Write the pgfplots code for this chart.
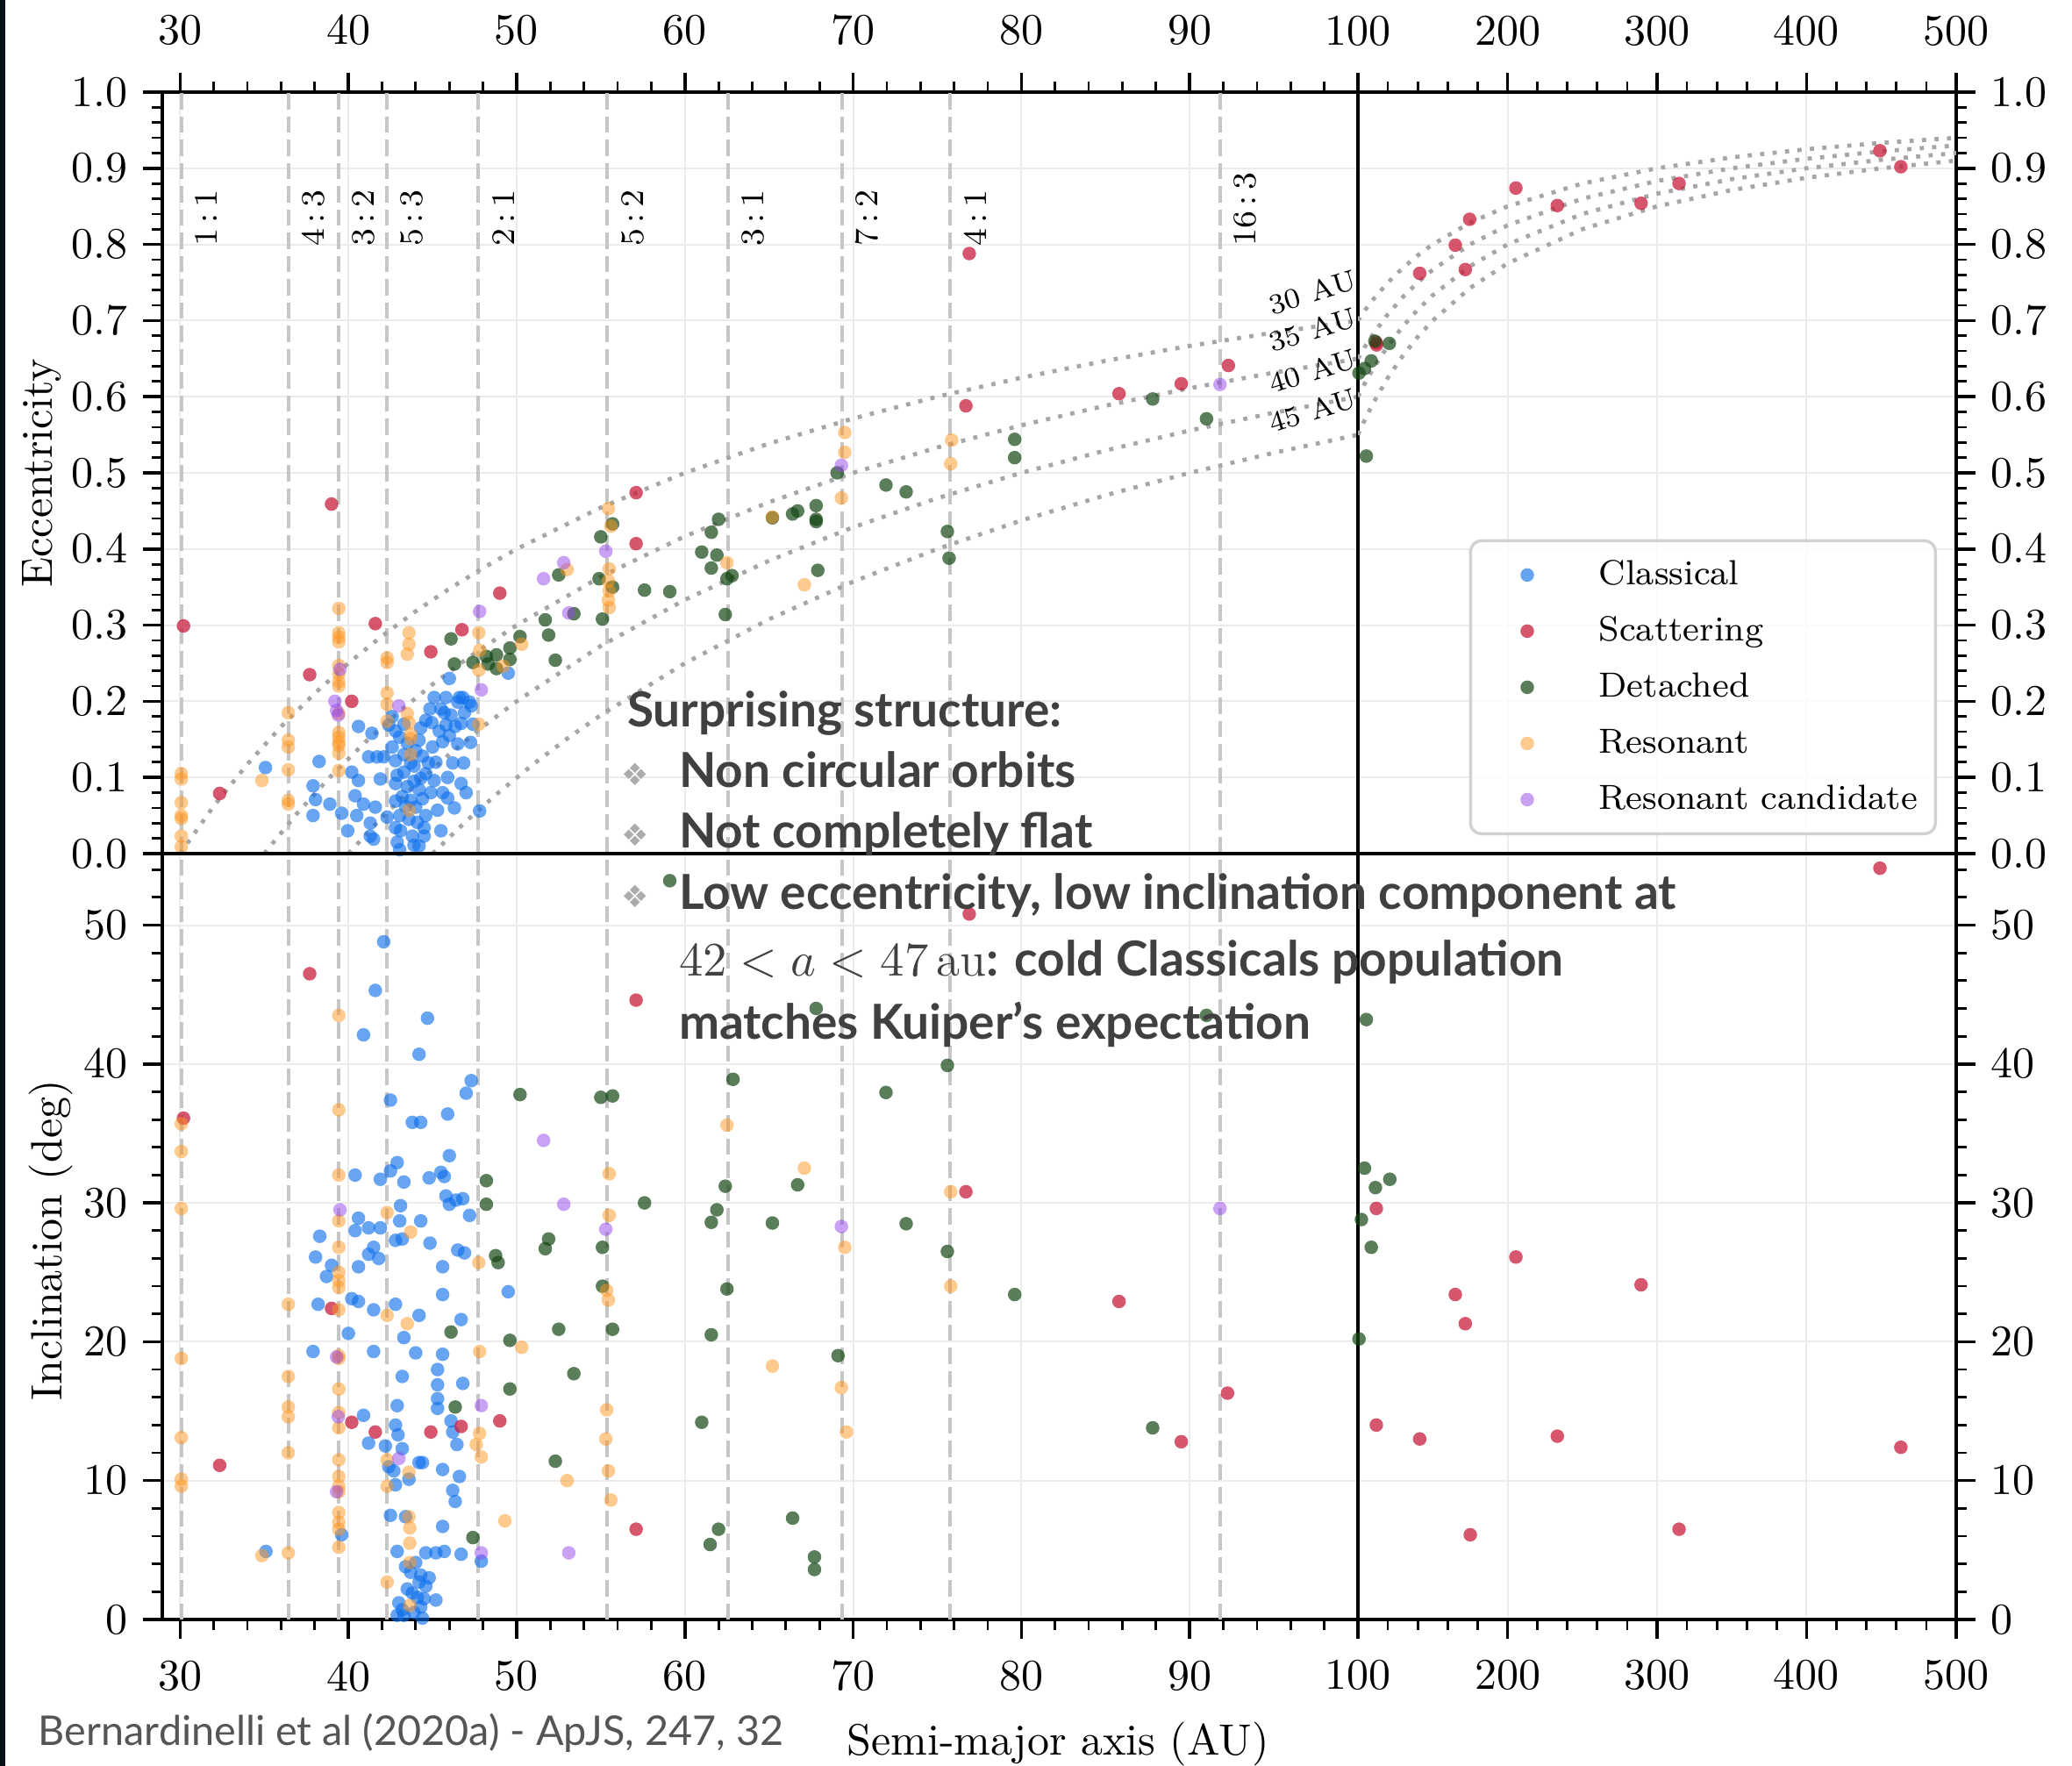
\documentclass[border=0pt]{standalone}
\usepackage{pgfplots}
\pgfplotsset{compat=1.18}
\usepackage{pgfplotstable}
\usepackage{fontspec}
\newfontfamily\annfont{Lato}
\newfontfamily\symfont{DejaVu Sans}

\definecolor{cClass}{RGB}{10,110,235}
\definecolor{cScat}{RGB}{200,30,60}
\definecolor{cDet}{RGB}{20,70,20}
\definecolor{cRes}{RGB}{255,150,30}
\definecolor{cCand}{RGB}{150,70,235}
\definecolor{anncol}{RGB}{64,64,64}
\definecolor{credcol}{RGB}{85,85,85}
\definecolor{stripcol}{RGB}{8,16,28}

\pgfdeclareplotmark{dot}{\pgfpathcircle{\pgfpointorigin}{\pgfplotmarksize}\pgfusepathqfill}

% ---------------- eccentricity data ----------------
\pgfplotstableread{
a e
35.07 0.113
38.26 0.121
37.9 0.089
38.05 0.071
38.9 0.065
37.9 0.050
39.6 0.053
39.96 0.030
40.6 0.167
40.2 0.107
40.6 0.096
40.4 0.076
40.9 0.065
40.5 0.050
41.2 0.127
41.4 0.158
41.7 0.127
41.9 0.098
41.6 0.061
41.3 0.040
41.3 0.023
41.5 0.019
42.1 0.127
42.3 0.048
42.4 0.169
42.6 0.180
42.8 0.122
42.8 0.092
42.8 0.069
42.8 0.034
43.05 0.005
42.8 0.161
43.05 0.153
43.3 0.130
43.3 0.107
42.9 0.103
43.7 0.119
43.9 0.115
43.9 0.011
44.0 0.061
43.8 0.023
44.3 0.165
44.2 0.149
44.2 0.084
44.3 0.099
44.5 0.034
44.5 0.023
44.6 0.050
44.75 0.119
44.85 0.190
44.96 0.172
45.1 0.096
45.3 0.057
45.4 0.161
45.5 0.190
45.6 0.147
45.6 0.080
45.8 0.205
45.8 0.169
45.9 0.073
46.1 0.182
46.2 0.119
46.35 0.167
46.5 0.199
46.5 0.144
46.7 0.171
46.7 0.092
46.8 0.205
46.85 0.119
47.0 0.080
47.2 0.199
47.26 0.146
47.3 0.194
46.0 0.230
49.5 0.237
47.8 0.056
43.05 0.050
43.2 0.075
43.5 0.088
43.6 0.045
43.1 0.030
43.4 0.062
44.1 0.041
44.4 0.072
43.9 0.095
44.6 0.105
44.0 0.135
42.6 0.140
43.5 0.145
44.4 0.128
45.0 0.140
45.2 0.120
45.9 0.100
46.3 0.060
45.5 0.030
44.9 0.080
43.7 0.070
42.9 0.015
44.2 0.010
43.3 0.170
44.6 0.175
45.1 0.205
46.0 0.155
46.9 0.185
47.4 0.170
46.6 0.205
45.7 0.185
}\tCE

\pgfplotstableread{
a e
30.2 0.299
32.35 0.079
37.7 0.235
39.0 0.459
41.6 0.302
40.2 0.200
44.9 0.265
46.75 0.294
49.0 0.342
57.1 0.474
57.1 0.407
76.7 0.588
76.9 0.788
85.8 0.604
89.5 0.617
92.3 0.641
112.3 0.671
112.5 0.668
141.3 0.762
165.1 0.799
171.8 0.767
174.7 0.833
205.6 0.874
233.3 0.851
289.3 0.854
314.7 0.880
449 0.923
463 0.902
}\tSE

\pgfplotstableread{
a e
46.1 0.282
46.3 0.249
47.4 0.251
48.2 0.259
48.3 0.249
48.8 0.261
48.8 0.243
49.6 0.270
49.6 0.255
50.2 0.285
51.7 0.307
51.9 0.287
52.3 0.254
52.5 0.366
53.4 0.315
55.0 0.416
54.9 0.361
55.7 0.433
55.7 0.350
55.1 0.308
57.6 0.346
59.1 0.344
61.57 0.422
62.0 0.439
61.0 0.396
61.9 0.392
61.57 0.375
62.5 0.361
62.8 0.365
62.4 0.314
65.2 0.441
66.4 0.446
66.7 0.450
67.8 0.457
67.8 0.439
67.8 0.436
67.9 0.372
69.05 0.500
71.95 0.484
73.15 0.475
75.6 0.423
75.7 0.388
79.6 0.544
79.6 0.520
87.8 0.597
91.0 0.571
111.3 0.673
121.0 0.670
108.9 0.647
104.4 0.637
100.7 0.631
105.6 0.522
}\tDE

\pgfplotstableread{
a e
30.07 0.105
30.07 0.098
30.07 0.067
30.07 0.050
30.07 0.046
30.07 0.023
30.07 0.009
34.86 0.096
36.43 0.185
36.43 0.149
36.43 0.140
36.43 0.110
36.43 0.070
36.43 0.065
39.43 0.322
39.43 0.290
39.43 0.284
39.43 0.278
39.43 0.247
39.43 0.236
39.43 0.226
39.43 0.220
39.43 0.184
39.43 0.159
39.43 0.153
39.43 0.146
39.43 0.142
39.43 0.132
39.43 0.109
42.3 0.257
42.3 0.251
42.3 0.211
42.3 0.196
42.3 0.174
43.5 0.184
43.6 0.172
43.7 0.157
43.7 0.151
43.7 0.130
43.6 0.057
43.6 0.290
43.6 0.275
43.5 0.262
47.75 0.290
47.8 0.267
47.75 0.241
47.75 0.170
49.2 0.246
50.3 0.275
53.0 0.373
55.45 0.453
55.6 0.430
55.5 0.374
55.45 0.358
55.5 0.345
55.45 0.333
55.5 0.323
62.5 0.382
65.2 0.442
69.5 0.553
69.5 0.527
69.3 0.467
67.1 0.353
75.85 0.543
75.8 0.512
}\tRE

\pgfplotstableread{
a e
47.8 0.318
47.9 0.215
51.6 0.361
52.8 0.382
53.1 0.316
55.3 0.397
43.0 0.194
39.5 0.242
39.2 0.200
39.3 0.188
39.4 0.182
69.3 0.510
91.8 0.616
}\tKE

% ---------------- inclination data ----------------
\pgfplotstableread{
a i
42.1 48.8
41.6 45.3
44.7 43.3
40.9 42.1
44.2 40.7
42.5 37.4
47.3 38.8
47.0 37.9
43.8 35.8
44.3 35.8
45.9 36.4
46.0 33.4
40.4 32.0
41.9 31.7
42.9 32.9
42.5 32.3
43.3 31.5
44.8 31.8
45.5 32.2
45.7 31.9
45.8 30.5
46.0 29.9
46.4 30.2
46.8 30.3
47.2 29.1
43.1 29.8
44.3 28.7
40.6 28.9
40.4 28.0
41.2 28.2
41.9 28.2
43.05 28.7
42.8 27.3
43.2 27.4
38.3 27.6
38.05 26.1
39.0 25.5
38.7 24.7
41.5 26.8
41.2 26.3
41.8 26.0
40.6 25.4
44.85 27.1
46.5 26.6
46.9 26.4
45.6 25.4
40.2 23.1
40.6 22.9
38.2 22.7
41.5 22.3
42.8 22.7
44.2 21.9
45.6 23.4
46.7 21.6
40.0 20.6
43.3 20.3
37.9 19.3
41.5 19.3
44.0 19.2
45.6 19.1
49.5 23.6
45.3 18.0
43.2 17.5
45.3 16.9
46.8 17.0
45.3 15.9
45.3 15.2
42.9 15.4
40.9 14.7
46.1 14.3
42.8 14.0
46.2 13.5
42.95 13.3
42.2 12.5
41.2 12.7
46.45 12.6
43.2 12.3
44.2 11.3
44.4 11.3
42.4 11.0
45.6 10.8
46.6 10.3
42.7 10.7
43.6 10.1
42.8 9.7
46.2 9.3
46.35 8.5
42.5 7.5
43.4 7.4
45.6 6.7
39.6 6.1
42.9 4.9
44.6 4.8
45.2 4.8
45.7 4.9
46.7 4.7
47.9 4.2
35.1 4.9
43.4 3.8
43.7 3.4
44.3 3.2
44.2 2.7
44.6 2.4
45.2 1.4
43.8 1.9
44.1 1.6
44.5 1.5
43.0 1.2
43.2 0.7
42.9 0.3
43.3 0.3
43.9 0.5
44.4 0.1
43.5 2.2
44.0 4.1
44.8 3.0
44.3 0.9
}\tCI

\pgfplotstableread{
a i
37.7 46.5
30.2 36.1
39.0 22.4
40.2 14.2
41.6 13.5
44.9 13.5
46.7 13.9
49.0 14.3
32.35 11.1
57.1 44.6
57.1 6.5
76.9 50.8
76.7 30.8
85.8 22.9
92.25 16.3
89.5 12.8
449 54.1
112.3 29.6
205.6 26.1
289.3 24.1
165.1 23.4
171.8 21.3
112.3 14.0
141.3 13.0
233.3 13.2
463 12.4
175.1 6.1
314.7 6.5
}\tSI

\pgfplotstableread{
a i
48.2 31.6
48.2 29.9
48.75 26.2
48.9 25.7
50.2 37.8
55.0 37.6
55.7 37.7
57.6 30.0
51.9 27.4
51.7 26.7
55.1 26.8
55.1 24.0
55.7 20.9
52.5 20.9
46.1 20.7
49.6 20.1
53.4 17.7
49.6 16.6
46.35 15.3
52.3 11.4
47.4 5.9
59.1 53.2
67.8 44.0
91.0 43.5
75.6 39.9
62.86 38.9
71.95 37.95
62.4 31.2
66.7 31.3
61.9 29.5
61.57 28.6
65.2 28.55
73.15 28.5
75.6 26.5
62.5 23.8
79.6 23.4
61.57 20.5
69.1 19.0
61.0 14.2
87.8 13.8
66.4 7.3
62.0 6.5
61.5 5.4
67.7 4.5
67.7 3.6
105.6 43.2
104.4 32.5
111.7 31.1
121.3 31.7
102.3 28.8
108.9 26.8
100.7 20.2
}\tDI

\pgfplotstableread{
a i
30.07 35.7
30.07 33.7
30.07 29.6
30.07 18.8
30.07 13.1
30.07 10.1
30.07 9.6
36.43 22.7
36.43 17.5
36.43 15.3
36.43 14.6
36.43 12.0
36.43 4.8
34.86 4.6
39.43 43.5
39.43 36.7
39.43 32.0
39.43 28.7
39.43 26.8
39.43 25.0
39.43 24.4
39.43 23.9
39.43 22.3
39.43 19.0
39.43 18.8
39.43 16.6
39.43 14.9
39.43 13.8
39.43 11.5
39.43 10.3
39.43 9.6
39.43 9.2
39.43 7.7
39.43 7.0
39.43 6.5
39.43 5.2
42.3 29.3
42.3 21.9
42.3 11.5
42.3 9.6
42.3 2.7
43.7 27.9
43.5 21.3
43.6 10.6
43.6 7.4
43.65 6.6
43.65 5.5
43.65 4.1
43.65 1.0
47.75 25.7
47.8 19.3
47.8 13.4
47.6 12.6
47.9 11.7
50.3 19.6
49.3 7.1
53.0 10.0
55.5 32.1
55.5 29.1
55.35 23.7
55.45 23.0
55.35 15.1
55.3 13.0
55.45 10.7
55.6 8.6
62.5 35.6
67.1 32.5
75.8 30.8
69.5 26.8
75.8 24.0
65.2 18.25
69.3 16.7
69.6 13.5
}\tRI

\pgfplotstableread{
a i
39.5 29.5
39.3 18.9
39.4 14.6
39.3 9.2
43.0 11.6
51.6 34.5
52.8 29.9
55.3 28.1
47.9 15.4
47.9 4.8
53.1 4.8
69.3 28.3
91.8 29.6
}\tKI

% ---------------- constant perihelion curves e = 1 - q/a ----------------
\pgfplotstableread{
a e
30 0
32 0.0625
34 0.1176
36 0.1667
38 0.2105
40 0.25
42 0.2857
44 0.3182
46 0.3478
48 0.375
50 0.4
55 0.4545
60 0.5
65 0.5385
70 0.5714
75 0.6
80 0.625
85 0.6471
90 0.6667
95 0.6842
100 0.7
105 0.7143
110 0.7273
120 0.75
130 0.7692
140 0.7857
150 0.8
175 0.8286
200 0.85
250 0.88
300 0.9
350 0.9143
400 0.925
450 0.9333
500 0.94
}\tQa
\pgfplotstableread{
a e
35 0
37 0.0541
39 0.1026
41 0.1463
43 0.1860
45 0.2222
47 0.2553
50 0.3
55 0.3636
60 0.4167
65 0.4615
70 0.5
75 0.5333
80 0.5625
85 0.5882
90 0.6111
95 0.6316
100 0.65
105 0.6667
110 0.6818
120 0.7083
130 0.7308
140 0.75
150 0.7667
175 0.8
200 0.825
250 0.86
300 0.8833
350 0.9
400 0.9125
450 0.9222
500 0.93
}\tQb
\pgfplotstableread{
a e
40 0
42 0.0476
44 0.0909
46 0.1304
48 0.1667
50 0.2
55 0.2727
60 0.3333
65 0.3846
70 0.4286
75 0.4667
80 0.5
85 0.5294
90 0.5556
95 0.5789
100 0.6
105 0.6190
110 0.6364
120 0.6667
130 0.6923
140 0.7143
150 0.7333
175 0.7714
200 0.8
250 0.84
300 0.8667
350 0.8857
400 0.9
450 0.9111
500 0.92
}\tQc
\pgfplotstableread{
a e
45 0
47 0.0426
49 0.0816
51 0.1176
53 0.1509
55 0.1818
60 0.25
65 0.3077
70 0.3571
75 0.4
80 0.4375
85 0.4706
90 0.5
95 0.5263
100 0.55
105 0.5714
110 0.5909
120 0.625
130 0.6538
140 0.6786
150 0.7
175 0.7429
200 0.775
250 0.82
300 0.85
350 0.8714
400 0.8875
450 0.9
500 0.91
}\tQd

\pgfplotsset{
  common/.style={
    scale only axis, anchor=south west, tick align=outside,
    major tick length=4.4pt, minor tick length=2.4pt,
    major tick style={black, line width=0.7pt},
    minor tick style={black, line width=0.55pt},
    axis line style={black, line width=0.9pt},
    grid=major, major grid style={gray!15, line width=0.4pt},
    tick label style={font=\fontsize{10}{12}\selectfont},
  },
  leftx/.style={xmin=28.94, xmax=100, xtick={30,40,...,100},
    xticklabels={30,40,50,60,70,80,90,{}}, minor xtick={30,32,...,100},
    restrict x to domain=28:101.5},
  rightx/.style={xmin=100, xmax=500, xtick={100,200,...,500},
    minor xtick={100,120,...,500}, restrict x to domain=99:500},
  topx/.style={xtick pos=right, xticklabel pos=right, xticklabel style={yshift=2.7pt}},
  botx/.style={xtick pos=left, xticklabel pos=left, xticklabel style={yshift=-1.5pt}},
  eccy/.style={ymin=0, ymax=1, ytick={0,0.1,...,1.0}, minor ytick={0,0.02,...,1.0},
    yticklabel style={/pgf/number format/.cd, fixed, fixed zerofill, precision=1}},
  incy/.style={ymin=0, ymax=55.15, ytick={0,10,...,50}, minor ytick={0,2,...,54}},
  sC/.style={forget plot, only marks, mark=dot, mark size=1.55pt, mark options={fill=cClass, fill opacity=0.62}},
  sS/.style={forget plot, only marks, mark=dot, mark size=1.55pt, mark options={fill=cScat, fill opacity=0.75}},
  sD/.style={forget plot, only marks, mark=dot, mark size=1.55pt, mark options={fill=cDet, fill opacity=0.7}},
  sR/.style={forget plot, only marks, mark=dot, mark size=1.55pt, mark options={fill=cRes, fill opacity=0.5}},
  sK/.style={forget plot, only marks, mark=dot, mark size=1.55pt, mark options={fill=cCand, fill opacity=0.5}},
  resline/.style={forget plot, gray!45, line width=0.8pt, dash pattern=on 3.7pt off 1.6pt},
  qcurve/.style={forget plot, gray!70, line width=0.95pt, dash pattern=on 0.95pt off 1.9pt},
  dotlegend/.style={legend image code/.code={%
      \path (0pt,-1pt) rectangle (17pt,1pt);
      \draw[##1, draw opacity=0] plot coordinates {(8.5pt,0pt)};}},
}

\newcommand{\reslines}[1]{%
  \pgfplotsinvokeforeach{30.07,36.43,39.40,42.27,47.73,55.39,62.55,69.32,75.77,91.80}{%
    \addplot[resline] coordinates {(##1,0) (##1,#1)};}}

\begin{document}
\begin{tikzpicture}

% ======== top left ========
\begin{axis}[common, leftx, eccy, topx, at={(37pt,208pt)}, width=272.6pt, height=173.6pt,
  ytick pos=left, yticklabel pos=left]
\reslines{1}
\addplot[qcurve] table {\tQa};
\addplot[qcurve] table {\tQb};
\addplot[qcurve] table {\tQc};
\addplot[qcurve] table {\tQd};
\addplot[sC] table {\tCE};
\addplot[sS] table {\tSE};
\addplot[sD] table {\tDE};
\addplot[sR] table {\tRE};
\addplot[sK] table {\tKE};
\begin{scope}[every node/.style={rotate=90, anchor=west, inner sep=0pt, font=\fontsize{7.5}{9}\selectfont}]
\node at (axis cs:31.57,0.797) {1\,:\,1};
\node at (axis cs:37.93,0.797) {4\,:\,3};
\node at (axis cs:40.90,0.797) {3\,:\,2};
\node at (axis cs:43.77,0.797) {5\,:\,3};
\node at (axis cs:49.23,0.797) {2\,:\,1};
\node at (axis cs:56.89,0.797) {5\,:\,2};
\node at (axis cs:64.05,0.797) {3\,:\,1};
\node at (axis cs:70.82,0.797) {7\,:\,2};
\node at (axis cs:77.27,0.797) {4\,:\,1};
\node at (axis cs:93.30,0.797) {16\,:\,3};
\end{scope}
\begin{scope}[every node/.style={rotate=17, anchor=center, inner sep=0pt, font=\fontsize{6.5}{8}\selectfont}]
\node at (axis cs:97.3,0.737) {30 AU};
\node at (axis cs:97.3,0.688) {35 AU};
\node at (axis cs:97.3,0.634) {40 AU};
\node at (axis cs:97.3,0.582) {45 AU};
\end{scope}
\end{axis}

% ======== top right ========
\begin{axis}[common, rightx, eccy, topx, at={(309.6pt,208pt)}, width=136.4pt, height=173.6pt,
  ytick pos=right, yticklabel pos=right,
  legend style={at={(0.968,0.024)}, anchor=south east, draw=gray!35, line width=0.7pt,
    rounded corners=2.5pt, fill=white, fill opacity=0.8, text opacity=1,
    font=\fontsize{7.95}{10}\selectfont, inner xsep=4.1pt, inner ysep=3.9pt, row sep=5pt,
    nodes={inner sep=0pt, text height=6.2pt, text depth=1.6pt, anchor=west},
    /tikz/every odd column/.append style={column sep=7.5pt}},
  legend cell align=left]
\addlegendimage{dotlegend, draw opacity=0, mark=dot, mark size=1.55pt, mark options={fill=cClass, fill opacity=0.62}}
\addlegendentry{Classical}
\addlegendimage{dotlegend, draw opacity=0, mark=dot, mark size=1.55pt, mark options={fill=cScat, fill opacity=0.75}}
\addlegendentry{Scattering}
\addlegendimage{dotlegend, draw opacity=0, mark=dot, mark size=1.55pt, mark options={fill=cDet, fill opacity=0.7}}
\addlegendentry{Detached}
\addlegendimage{dotlegend, draw opacity=0, mark=dot, mark size=1.55pt, mark options={fill=cRes, fill opacity=0.5}}
\addlegendentry{Resonant}
\addlegendimage{dotlegend, draw opacity=0, mark=dot, mark size=1.55pt, mark options={fill=cCand, fill opacity=0.5}}
\addlegendentry{Resonant candidate}
\addplot[qcurve] table {\tQa};
\addplot[qcurve] table {\tQb};
\addplot[qcurve] table {\tQc};
\addplot[qcurve] table {\tQd};
\addplot[sC] table {\tCE};
\addplot[sS] table {\tSE};
\addplot[sD] table {\tDE};
\addplot[sR] table {\tRE};
\addplot[sK] table {\tKE};
\end{axis}

% ======== bottom left ========
\begin{axis}[common, leftx, incy, botx, at={(37pt,33.4pt)}, width=272.6pt, height=174.6pt,
  ytick pos=left, yticklabel pos=left]
\reslines{60}
\addplot[sC] table {\tCI};
\addplot[sS] table {\tSI};
\addplot[sD] table {\tDI};
\addplot[sR] table {\tRI};
\addplot[sK] table {\tKI};
\end{axis}

% ======== bottom right ========
\begin{axis}[common, rightx, incy, botx, at={(309.6pt,33.4pt)}, width=136.4pt, height=174.6pt,
  ytick pos=right, yticklabel pos=right]
\addplot[sC] table {\tCI};
\addplot[sS] table {\tSI};
\addplot[sD] table {\tDI};
\addplot[sR] table {\tRI};
\addplot[sK] table {\tKI};
\end{axis}

% ======== labels ========
\node[rotate=90, anchor=base, inner sep=0pt, font=\fontsize{10}{12}\selectfont] at (12pt,294.8pt) {Eccentricity};
\node[rotate=90, anchor=base, inner sep=0pt, font=\fontsize{10}{12}\selectfont] at (14pt,119.8pt) {Inclination (deg)};
\node[anchor=base, inner sep=0pt, font=\fontsize{10}{12}\selectfont] at (241.2pt,2.6pt) {Semi-major axis (AU)};
\node[anchor=base west, inner sep=0pt, text=credcol, font=\annfont\fontsize{9.35}{11}\selectfont] at (8.6pt,4.6pt) {Bernardinelli et al (2020a) - ApJS, 247, 32};

% ======== annotation ========
\begin{scope}[every node/.style={anchor=base west, inner sep=0pt, text=anncol, font=\annfont\bfseries\fontsize{11.0}{13}\selectfont}]
\node at (142.8pt,236.8pt) {Surprising structure:};
\node at (154.6pt,223.0pt) {Non circular orbits};
\node at (154.6pt,209.2pt) {Not completely flat};
\node at (154.6pt,195.2pt) {Low eccentricity, low inclination component at};
\node at (154.6pt,180.0pt) {{\normalfont\fontsize{11}{13}\selectfont $42<a<47\,\mathrm{au}$}: cold Classicals population};
\node at (154.6pt,165.6pt) {matches Kuiper’s expectation};
\end{scope}
\begin{scope}[every node/.style={anchor=center, inner sep=0pt, text=gray!65, font=\symfont\fontsize{7}{8}\selectfont}]
\node at (144.8pt,226.0pt) {❖};
\node at (144.8pt,212.2pt) {❖};
\node at (144.8pt,198.2pt) {❖};
\end{scope}

\fill[stripcol] (0pt,0pt) rectangle (1.3pt,402.6pt);
\pgfresetboundingbox
\path[use as bounding box] (0pt,0pt) rectangle (472.4pt,402.6pt);
\end{tikzpicture}
\end{document}
